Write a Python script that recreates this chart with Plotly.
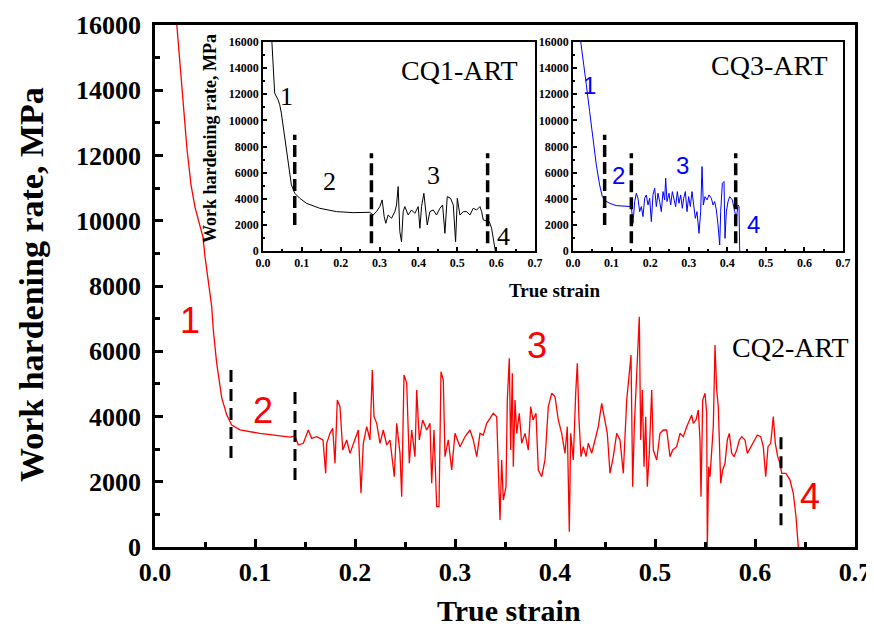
import plotly.graph_objects as go

# CQ2-ART, main curve (true strain / work hardening rate in MPa)
cq2_strain = [0.021, 0.028, 0.032, 0.036, 0.040, 0.044, 0.048, 0.050, 0.054, 0.0567, 0.0583, 0.0617,
              0.0667, 0.0717, 0.0767, 0.085, 0.105, 0.120, 0.135, 0.140,
              0.1433, 0.1483, 0.1533, 0.1567, 0.1617, 0.168, 0.1707, 0.1717, 0.175, 0.1777, 0.180,
              0.1823, 0.185, 0.1877, 0.1917, 0.195, 0.200, 0.2033, 0.206, 0.2083, 0.2117, 0.215,
              0.2173, 0.219, 0.2217, 0.225, 0.2283, 0.2317, 0.235, 0.2393, 0.2417, 0.245, 0.2467,
              0.249, 0.2517, 0.2543, 0.2567, 0.260, 0.2617, 0.2643, 0.2677, 0.2717, 0.275, 0.2767,
              0.279, 0.2817, 0.284, 0.286, 0.2883, 0.290, 0.2933, 0.2967, 0.300, 0.305, 0.310,
              0.315, 0.3183, 0.3217, 0.325, 0.3283, 0.3317, 0.3383, 0.3417, 0.345, 0.3467, 0.3483,
              0.351, 0.3523, 0.3543, 0.3557, 0.3573, 0.3583, 0.360, 0.3617, 0.3643, 0.3667, 0.370,
              0.3733, 0.3757, 0.378, 0.381, 0.3833, 0.3867, 0.390, 0.3933, 0.3967, 0.400, 0.4033,
              0.4067, 0.410, 0.4123, 0.4143, 0.4157, 0.4183, 0.4207, 0.4223, 0.424, 0.426, 0.4283,
              0.431, 0.4333, 0.4367, 0.440, 0.4433, 0.4467, 0.450, 0.4523, 0.455, 0.4583, 0.4617,
              0.465, 0.4683, 0.4717, 0.4743, 0.476, 0.4777, 0.4793, 0.4843, 0.4857, 0.4873, 0.489,
              0.4907, 0.4923, 0.4943, 0.4967, 0.4983, 0.5017, 0.505, 0.5083, 0.5117, 0.5133, 0.515,
              0.5177, 0.5217, 0.525, 0.5283, 0.5317, 0.5367, 0.5383, 0.541, 0.5433, 0.545, 0.546,
              0.5477, 0.550, 0.5517, 0.5523, 0.5537, 0.555, 0.5567, 0.5583, 0.560, 0.5617, 0.5633,
              0.5657, 0.5677, 0.570, 0.5723, 0.5743, 0.5767, 0.579, 0.5817, 0.5843, 0.5867, 0.590,
              0.5923, 0.5957, 0.599, 0.6023, 0.6057, 0.6083, 0.6107, 0.613, 0.6157, 0.6183, 0.6203,
              0.6227, 0.625, 0.6267, 0.631, 0.635, 0.6383, 0.641, 0.6433]
cq2_rate = [16300, 13700, 12200, 11100, 10420, 9950, 9500, 8900, 7900, 7366, 6650, 5630,
            4580, 4050, 3740, 3590, 3480, 3430, 3370, 3400,
            3126, 3177, 3586, 3330, 3380, 3280, 2258, 3177, 3484, 3637, 2564,
            4506, 4300, 2973, 3280, 2870, 3280, 3586, 1645, 3177, 3688, 3280,
            5425, 3995, 3790, 3177, 3586, 3126, 3280, 2155, 3790, 2870, 1542,
            5272, 5016, 2564, 3586, 2768, 4812, 3280, 3893, 3586, 3790, 1952,
            3586, 1236, 1236, 5374, 5119, 2768, 3280, 2360, 3484, 3075, 3380,
            3586, 3280, 2768, 3484, 3432, 3790, 4097, 3995, 828, 2667, 1440,
            1849, 4506, 5783, 2973, 5323, 2462, 4506, 3484, 4097, 3178, 3484,
            2973, 4301, 3893, 4097, 2360, 2155, 2667, 4301, 4711, 4608, 3893,
            3484, 2871, 3688, 470, 3484, 2667, 4711, 5630, 3893, 2769, 3075,
            2769, 3178, 2871, 3280, 3688, 4404, 3893, 3484, 2258, 2769, 3484,
            3280, 2258, 4506, 5323, 5885, 1849, 3688, 7060, 3280, 4813, 2462,
            3995, 1849, 2871, 4813, 2973, 2667, 3484, 3586, 3586, 3178, 2769,
            2973, 3075, 3484, 3382, 3688, 4046, 3790, 3893, 4199, 3280, 1543,
            4506, 4711, 4097, 0, 2462, 2155, 2973, 3688, 6191, 4813, 4301,
            1952, 2360, 2564, 3280, 3484, 2871, 2769, 2973, 3280, 3382, 3280,
            2871, 3075, 3280, 3432, 3382, 3075, 2155, 3075, 3178, 3995, 3178,
            2769, 2564, 2258, 2258, 2052, 1645, 928, 0]

# CQ1-ART (inset, black)
cq1_strain = [0.022, 0.0283, 0.030, 0.0387, 0.043, 0.0472, 0.0558, 0.0644, 0.073, 0.0816, 0.0945,
              0.1117, 0.146, 0.189, 0.2319, 0.2748, 0.2834, 0.292, 0.3006, 0.3066, 0.3118, 0.316,
              0.322, 0.3307, 0.3393, 0.3436, 0.3478, 0.3521, 0.3564, 0.3607, 0.365, 0.3736, 0.3822,
              0.3908, 0.3994, 0.4037, 0.408, 0.414, 0.4183, 0.4226, 0.4294, 0.438, 0.4466, 0.4552,
              0.4621, 0.4681, 0.4741, 0.4827, 0.4896, 0.4956, 0.500, 0.5067, 0.5153, 0.5239, 0.5325,
              0.541, 0.5497, 0.5583, 0.5625, 0.5669, 0.5755, 0.5823, 0.5883, 0.5943, 0.5978]
cq1_rate = [16500, 13495, 12090, 11579, 11195, 10556, 8640, 6594, 5061, 4422, 4038,
            3655, 3272, 3016, 2939, 2965, 2760, 3016, 3400, 3911, 2633, 2122,
            2760, 2505, 3016, 3527, 4933, 1482, 716, 3016, 3400, 2760, 3144,
            2888, 3400, 1738, 3400, 4422, 3016, 1994, 3016, 3144, 2760, 3272,
            3527, 1355, 4166, 4038, 3527, 716, 4038, 2760, 3016, 3016, 2760,
            3272, 3144, 3400, 3016, 2377, 2300, 2250, 1738, 460, 0]

# CQ3-ART (inset, blue)
cq3_strain = [0.018, 0.0259, 0.0346, 0.0432, 0.0519, 0.0605, 0.0691, 0.0761, 0.0847, 0.0951, 0.1124,
              0.1383, 0.1513, 0.1556, 0.160, 0.1642, 0.1685, 0.1729, 0.1772, 0.1815, 0.1858, 0.1901,
              0.1945, 0.1988, 0.2031, 0.2074, 0.2118, 0.2161, 0.2204, 0.2247, 0.229, 0.2334, 0.2377,
              0.2403, 0.2437, 0.2489, 0.2532, 0.2576, 0.2619, 0.2662, 0.2705, 0.2748, 0.2792, 0.2835,
              0.287, 0.2913, 0.2956, 0.2999, 0.3042, 0.3086, 0.3129, 0.3172, 0.3215, 0.3267, 0.331,
              0.3345, 0.3379, 0.3423, 0.3475, 0.3526, 0.3587, 0.363, 0.3673, 0.3717, 0.376, 0.3803,
              0.3829, 0.3872, 0.3915, 0.3941, 0.3976, 0.4019, 0.4062, 0.4131, 0.4192, 0.4235, 0.4278,
              0.4304, 0.4322]
cq3_rate = [16500, 14518, 12729, 10684, 8639, 6594, 5061, 4166, 3834, 3655, 3476,
            3400, 3400, 2121, 3783, 4422, 4038, 3016, 3400, 2633, 4038, 4294,
            3527, 4038, 2249, 4294, 4805, 3400, 4422, 3783, 3016, 4550, 3911,
            5572, 3783, 4422, 3527, 4550, 4038, 3400, 4550, 3655, 4294, 3272,
            4038, 4550, 3016, 4166, 3400, 4550, 3527, 2505, 3016, 1355, 3016,
            6467, 3527, 4166, 3911, 4294, 4038, 3527, 3783, 3144, 1994, 460,
            3016, 5189, 5316, 971, 3016, 3783, 4166, 3911, 3016, 2505, 3527,
            3400, 0]

# stage boundaries (strain) and the span of each dashed marker (MPa)
cq2_bounds = [0.076, 0.140, 0.626]
cq2_bound_lo = [2730, 2050, 670]
cq2_bound_hi = [5490, 4810, 3430]
cq1_bounds = [0.0816, 0.279, 0.578]
cq1_bound_lo = [1994, 588, 588]
cq1_bound_hi = [8895, 7489, 7489]
cq3_bounds = [0.0821, 0.1513, 0.4218]
cq3_bound_lo = [1994, 588, 588]
cq3_bound_hi = [8895, 7489, 7489]

SERIF = "Times New Roman, Liberation Serif, serif"
SANS = "Arial, Liberation Sans, sans-serif"

fig = go.Figure()

# main curve
fig.add_trace(go.Scatter(x=cq2_strain, y=cq2_rate, mode="lines",
                         line=dict(color="#ff0000", width=1.3), xaxis="x", yaxis="y"))
for b, lo, hi in zip(cq2_bounds, cq2_bound_lo, cq2_bound_hi):
    fig.add_trace(go.Scatter(x=[b, b], y=[lo, hi], mode="lines",
                             line=dict(color="black", width=3, dash="12px,7px"),
                             xaxis="x", yaxis="y"))

# inset CQ1
fig.add_trace(go.Scatter(x=cq1_strain, y=cq1_rate, mode="lines",
                         line=dict(color="black", width=1), xaxis="x2", yaxis="y2"))
for b, lo, hi in zip(cq1_bounds, cq1_bound_lo, cq1_bound_hi):
    fig.add_trace(go.Scatter(x=[b, b], y=[lo, hi], mode="lines",
                             line=dict(color="black", width=3.5, dash="12px,5px"),
                             xaxis="x2", yaxis="y2"))

# inset CQ3
fig.add_trace(go.Scatter(x=cq3_strain, y=cq3_rate, mode="lines",
                         line=dict(color="#0000ff", width=1), xaxis="x3", yaxis="y3"))
for b, lo, hi in zip(cq3_bounds, cq3_bound_lo, cq3_bound_hi):
    fig.add_trace(go.Scatter(x=[b, b], y=[lo, hi], mode="lines",
                             line=dict(color="black", width=3.5, dash="12px,5px"),
                             xaxis="x3", yaxis="y3"))


def axis_style(size, lw, tlen, mlen):
    return dict(showline=True, linewidth=lw, linecolor="black", mirror=True,
                ticks="inside", ticklen=tlen, tickwidth=lw, tickcolor="black",
                showgrid=False, zeroline=False, automargin=False,
                tickfont=dict(family=SERIF, size=size, color="black", weight="bold"),
                minor=dict(ticks="inside", ticklen=mlen, tickwidth=lw, tickcolor="black"))


main = axis_style(26, 2.5, 8, 5)
inset = axis_style(12, 1.5, 4, 2)

# the page body adds an 8px offset, margins are shifted to compensate
fig.update_layout(
    width=874, height=628,
    margin=dict(l=147, r=27, t=17, b=89),
    paper_bgcolor="white", plot_bgcolor="white",
    showlegend=False,
    xaxis=dict(main, range=[0, 0.7], dtick=0.1, tickformat=".1f",
               minor=dict(main["minor"], dtick=0.05)),
    yaxis=dict(main, range=[0, 16000], dtick=2000, tickformat="d", ticklabelstandoff=6,
               minor=dict(main["minor"], dtick=1000)),
    xaxis2=dict(inset, domain=[0.1543, 0.5429], anchor="y2", range=[0, 0.7], dtick=0.1,
                tickformat=".1f", minor=dict(inset["minor"], dtick=0.05)),
    yaxis2=dict(inset, domain=[0.567, 0.9674], anchor="x2", range=[0, 16000], dtick=2000,
                tickformat="d", minor=dict(inset["minor"], dtick=1000)),
    xaxis3=dict(inset, domain=[0.5971, 0.9829], anchor="y3", range=[0, 0.7], dtick=0.1,
                tickformat=".1f", minor=dict(inset["minor"], dtick=0.05)),
    yaxis3=dict(inset, domain=[0.567, 0.9674], anchor="x3", range=[0, 16000], dtick=2000,
                tickformat="d", minor=dict(inset["minor"], dtick=1000)),
)

notes = [
    # axis titles
    dict(text="Work hardening rate, MPa", xref="paper", yref="paper", x=-0.1757, y=0.502,
         textangle=-90, font=dict(family=SERIF, size=34, weight="bold")),
    dict(text="True strain", xref="paper", yref="paper", x=0.506, y=-0.1207,
         font=dict(family=SERIF, size=30, weight="bold")),
    dict(text="Work hardening rate, MPa", xref="paper", yref="paper", x=0.0786, y=0.7816,
         textangle=-90, font=dict(family=SERIF, size=18, weight="bold")),
    dict(text="True strain", xref="paper", yref="paper", x=0.5714, y=0.4923,
         font=dict(family=SERIF, size=19, weight="bold")),
    # main stage labels
    dict(text="1", xref="x", yref="y", x=0.035, y=6958, font=dict(family=SANS, size=36, color="#ff0000")),
    dict(text="2", xref="x", yref="y", x=0.108, y=4199, font=dict(family=SANS, size=36, color="#ff0000")),
    dict(text="3", xref="x", yref="y", x=0.382, y=6191, font=dict(family=SANS, size=36, color="#ff0000")),
    dict(text="4", xref="x", yref="y", x=0.655, y=1533, font=dict(family=SANS, size=36, color="#ff0000")),
    dict(text="CQ2-ART", xref="x", yref="y", x=0.635, y=6100, font=dict(family=SERIF, size=28)),
    # CQ1 inset labels
    dict(text="1", xref="x2", yref="y2", x=0.061, y=11812, font=dict(family=SERIF, size=26)),
    dict(text="2", xref="x2", yref="y2", x=0.172, y=5305, font=dict(family=SERIF, size=26)),
    dict(text="3", xref="x2", yref="y2", x=0.438, y=5818, font=dict(family=SERIF, size=26)),
    dict(text="4", xref="x2", yref="y2", x=0.618, y=1095, font=dict(family=SERIF, size=26)),
    dict(text="CQ1-ART", xref="x2", yref="y2", x=0.506, y=13856, font=dict(family=SERIF, size=28)),
    # CQ3 inset labels
    dict(text="1", xref="x3", yref="y3", x=0.044, y=12708, font=dict(family=SANS, size=24, color="#0000ff")),
    dict(text="2", xref="x3", yref="y3", x=0.117, y=5818, font=dict(family=SANS, size=24, color="#0000ff")),
    dict(text="3", xref="x3", yref="y3", x=0.285, y=6584, font=dict(family=SANS, size=24, color="#0000ff")),
    dict(text="4", xref="x3", yref="y3", x=0.469, y=2067, font=dict(family=SANS, size=24, color="#0000ff")),
    dict(text="CQ3-ART", xref="x3", yref="y3", x=0.51, y=14239, font=dict(family=SERIF, size=28)),
]
for n in notes:
    n.update(showarrow=False, xanchor="center", yanchor="middle")
    n["font"].setdefault("color", "black")
    fig.add_annotation(**n)

fig.write_html("out.html")
